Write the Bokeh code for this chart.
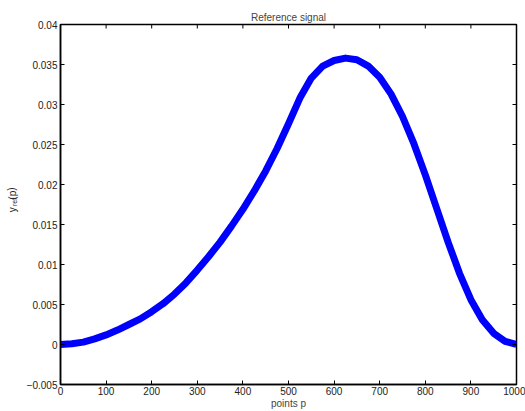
from bokeh.plotting import figure
from bokeh.models import Range1d, FixedTicker, Label
from bokeh.layouts import row
from bokeh.embed import file_html
from bokeh.resources import INLINE

# data
points = [0, 25, 50, 75, 100, 125, 150, 175, 200, 225, 250, 275, 300, 325, 350,
          375, 400, 425, 450, 475, 500, 525, 550, 575, 600, 625, 650, 675, 700,
          725, 750, 775, 800, 825, 850, 875, 900, 925, 950, 975, 1000]
y_ref = [0.0, 0.0001, 0.0003, 0.0007, 0.0012, 0.0018, 0.0025, 0.0032, 0.0041,
         0.0051, 0.0063, 0.0077, 0.0093, 0.0110, 0.0128, 0.0148, 0.0169, 0.0192,
         0.0217, 0.0245, 0.0276, 0.0308, 0.0333, 0.0348, 0.0355, 0.0358, 0.0356,
         0.0348, 0.0334, 0.0313, 0.0285, 0.0251, 0.0212, 0.0170, 0.0128, 0.0089,
         0.0056, 0.0031, 0.0014, 0.0004, 0.0]

x_ticks = [0, 100, 200, 300, 400, 500, 600, 700, 800, 900, 1000]
y_ticks = [-0.005, 0, 0.005, 0.01, 0.015, 0.02, 0.025, 0.03, 0.035, 0.04]
y_tick_labels = {-0.005: "\u22120.005", 0: "0", 0.005: "0.005", 0.01: "0.01",
                 0.015: "0.015", 0.02: "0.02", 0.025: "0.025", 0.03: "0.03",
                 0.035: "0.035", 0.04: "0.04"}

FONT = "Liberation Sans"
X0, X1 = 0, 1000
Y0, Y1 = -0.005, 0.04
LW = 20  # width of the strip that carries the y axis label

p = figure(width=525 - LW, height=411, output_backend="svg", toolbar_location=None,
           x_range=Range1d(X0, X1), y_range=Range1d(Y0, Y1),
           title="Reference signal", x_axis_label="points p",
           min_border_left=60 - LW, min_border_right=9, min_border_top=24,
           min_border_bottom=26)

p.title.text_font = FONT
p.title.text_font_size = "10px"
p.title.text_font_style = "normal"
p.title.align = "center"
p.title.standoff = 4

p.grid.visible = False
p.outline_line_color = "black"
p.outline_line_width = 1.5

p.line(points, y_ref, line_color="#0000ff", line_width=7, line_join="round")

for ax in (p.xaxis[0], p.yaxis[0]):
    ax.major_tick_in = 4
    ax.major_tick_out = 0
    ax.minor_tick_in = 0
    ax.minor_tick_out = 0
    ax.axis_line_color = "black"
    ax.axis_line_width = 1.5
    ax.major_label_text_font = FONT
    ax.major_label_text_font_size = "10px"
    ax.major_label_text_color = "#222222"

p.xaxis[0].ticker = FixedTicker(ticks=x_ticks)
p.yaxis[0].ticker = FixedTicker(ticks=y_ticks)
p.yaxis[0].major_label_overrides = y_tick_labels
p.xaxis[0].axis_label_text_font = FONT
p.xaxis[0].axis_label_text_font_size = "10px"
p.xaxis[0].axis_label_text_font_style = "normal"
p.xaxis[0].axis_label_standoff = 0
p.xaxis[0].major_label_standoff = 2
p.yaxis[0].major_label_standoff = 3

# ticks on top and right edges (box on), drawn as dash markers clipped by the frame
p.scatter(x_ticks, [Y1] * len(x_ticks), marker="dash", size=8, angle=1.5708,
          line_color="black", line_width=1)
p.scatter([X1] * len(y_ticks), y_ticks, marker="dash", size=8,
          line_color="black", line_width=1)

# narrow strip to the left holding the y axis label with its subscript
s = figure(width=LW, height=411, output_backend="svg", toolbar_location=None,
           x_range=Range1d(0, LW), y_range=Range1d(411, 0),
           x_axis_type=None, y_axis_type=None, min_border=0)
s.outline_line_color = None
s.grid.visible = False
def lab(px, py, text, size):
    s.add_layout(Label(x=px, y=py, text=text, angle=1.5708, text_font=FONT,
                       text_font_size=size, text_align="center",
                       text_baseline="middle", text_color="#222222"))
lab(11.5, 211.5, "y", "10px")
lab(14.0, 202.5, "ref", "7px")
lab(11.5, 193, "(p)", "10px")

open("out.html", "w").write(file_html(row(s, p, spacing=0), INLINE))
